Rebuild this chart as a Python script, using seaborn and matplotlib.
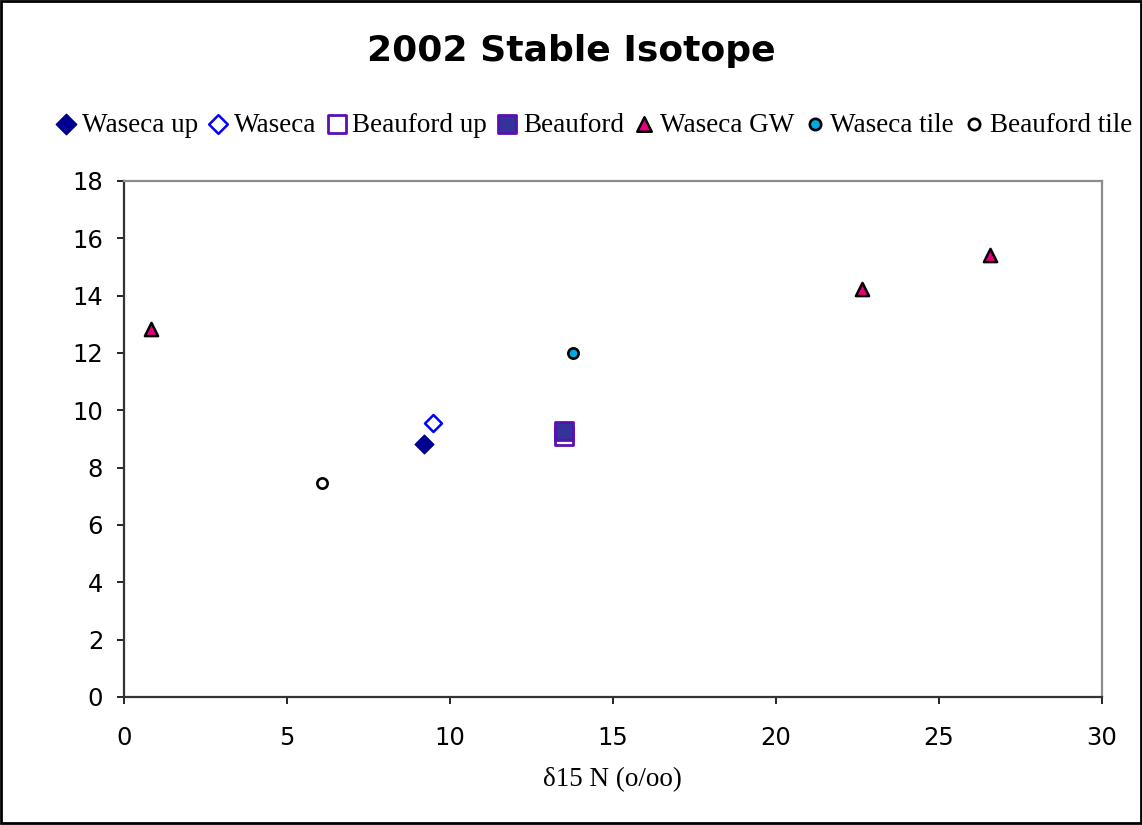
import matplotlib
matplotlib.use("Agg")
import matplotlib.pyplot as plt
import seaborn as sns
import pandas as pd
from matplotlib.patches import Rectangle

# Measured isotope values: delta-15N (x) vs delta-18O (y)
series_names = ["Waseca up", "Waseca", "Beauford up", "Beauford",
                "Waseca GW", "Waseca tile", "Beauford tile"]
waseca_up_x = [9.2]
waseca_up_y = [8.82]
waseca_x = [9.48]
waseca_y = [9.56]
beauford_up_x = [13.5]
beauford_up_y = [9.12]
beauford_x = [13.5]
beauford_y = [9.28]
waseca_gw_x = [0.83, 22.63, 26.56]
waseca_gw_y = [12.83, 14.24, 15.42]
waseca_tile_x = [13.77]
waseca_tile_y = [12.0]
beauford_tile_x = [6.07]
beauford_tile_y = [7.46]

xs = [waseca_up_x, waseca_x, beauford_up_x, beauford_x,
      waseca_gw_x, waseca_tile_x, beauford_tile_x]
ys = [waseca_up_y, waseca_y, beauford_up_y, beauford_y,
      waseca_gw_y, waseca_tile_y, beauford_tile_y]

frames = []
for name, x, y in zip(series_names, xs, ys):
    frames.append(pd.DataFrame({"series": name, "d15N": x, "d18O": y}))
df = pd.concat(frames, ignore_index=True)

# Marker styling per series
styles = {
    "Waseca up":     dict(marker="D", s=90,  facecolor="#000090", edgecolor="#000090", linewidth=1.0),
    "Waseca":        dict(marker="D", s=75,  facecolor="white",   edgecolor="#0000FF", linewidth=1.8),
    "Beauford up":   dict(marker="s", s=150, facecolor="white",   edgecolor="#5B0FB5", linewidth=2.0),
    "Beauford":      dict(marker="s", s=150, facecolor="#333399", edgecolor="#5B0FB5", linewidth=2.0),
    "Waseca GW":     dict(marker="^", s=90,  facecolor="#E6007E", edgecolor="black",   linewidth=1.8),
    "Waseca tile":   dict(marker="o", s=55,  facecolor="#00A9E0", edgecolor="black",   linewidth=1.9),
    "Beauford tile": dict(marker="o", s=55,  facecolor="white",   edgecolor="black",   linewidth=1.9),
}

sns.set_theme(style="white")
plt.rcParams["font.family"] = ["DejaVu Sans"]
plt.rcParams["text.color"] = "black"
plt.rcParams["xtick.color"] = "black"
plt.rcParams["ytick.color"] = "black"

serif = ["Liberation Serif", "DejaVu Serif"]

fig = plt.figure(figsize=(11.42, 8.25), dpi=100)
ax = fig.add_axes([124 / 1142, 1 - 697 / 825, (1102 - 124) / 1142, (697 - 181) / 825])

for name in series_names:
    sub = df[df["series"] == name]
    sns.scatterplot(data=sub, x="d15N", y="d18O", ax=ax, label=name,
                    zorder=3, **styles[name])

ax.set_xlim(0, 30)
ax.set_ylim(0, 18)
ax.set_xticks(range(0, 31, 5))
ax.set_yticks(range(0, 19, 2))
ax.tick_params(axis="both", direction="out", length=5, width=1.2,
               colors="black", labelsize=17.5, left=True, bottom=True)
ax.tick_params(axis="x", pad=16)
ax.tick_params(axis="y", pad=10)

for side in ["left", "bottom"]:
    ax.spines[side].set_color("#333333")
    ax.spines[side].set_linewidth(1.6)
for side in ["top", "right"]:
    ax.spines[side].set_color("#8C8C8C")
    ax.spines[side].set_linewidth(1.6)

ax.set_ylabel("")
ax.set_xlabel("")
fig.text(612 / 1142, 1 - 780 / 825, "δ15 N (o/oo)", ha="center", va="center",
         fontsize=19.5, family=serif, color="black")

handles, labels = ax.get_legend_handles_labels()
ax.legend_.remove()
fig.legend(handles, labels, loc="center", bbox_to_anchor=(594 / 1142, 1 - 125 / 825), ncol=7,
           frameon=False, handlelength=0.75, handletextpad=0.2, columnspacing=0.38,
           borderaxespad=0, borderpad=0, markerscale=1.1,
           prop={"family": serif, "size": 19.5})

fig.text(0.5, 1 - 51 / 825, "2002 Stable Isotope", ha="center", va="center",
         fontsize=26, fontweight="bold", family=["DejaVu Sans"], color="black")

# Outer chart border
fig.patches.append(Rectangle((0.001, 0.002), 0.998, 0.997, transform=fig.transFigure,
                             fill=False, edgecolor="black", linewidth=2.0))

fig.savefig("out.png", dpi=100, facecolor="white")
